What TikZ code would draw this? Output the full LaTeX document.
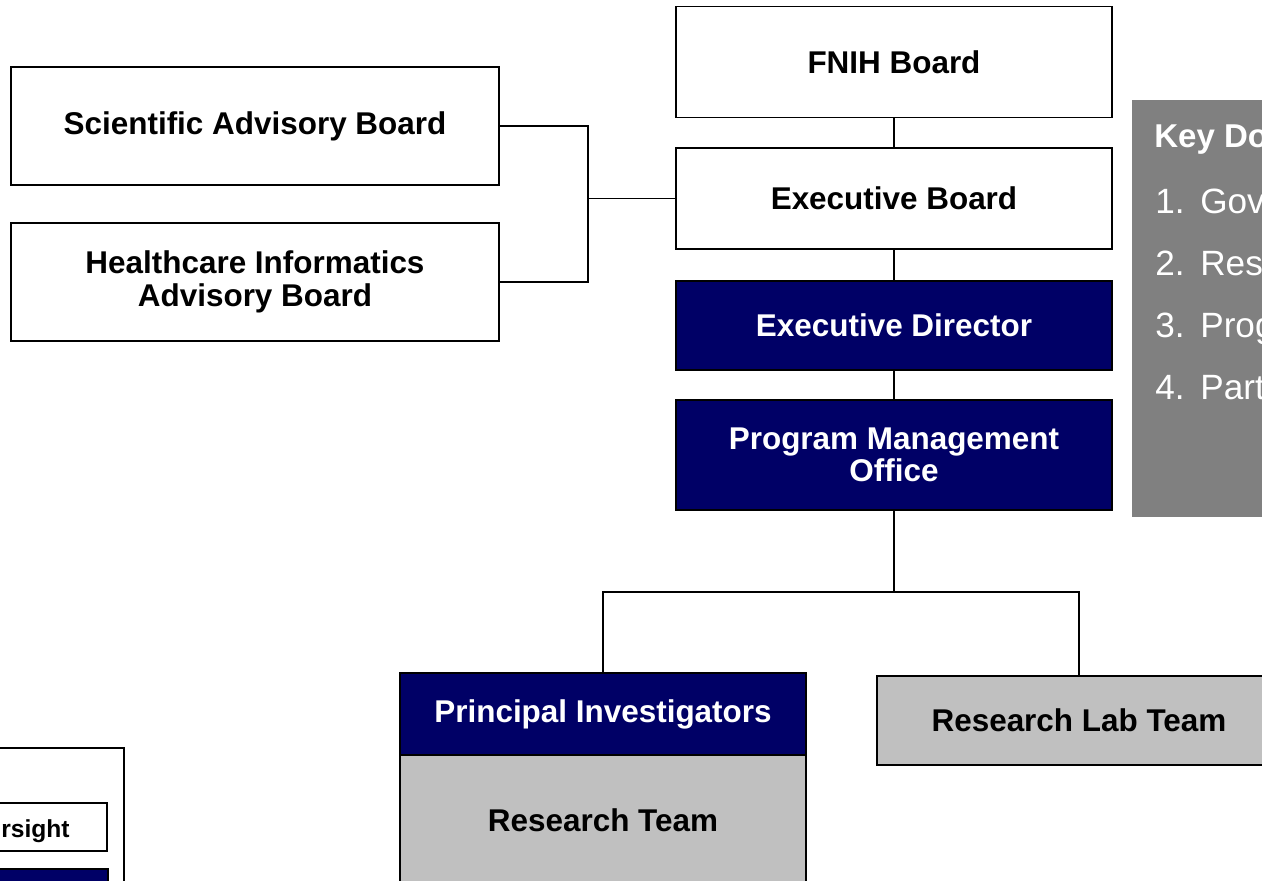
\documentclass[tikz,border=0pt]{standalone}
\usepackage{fontspec}
\setmainfont{Liberation Sans}
\definecolor{navy}{RGB}{0,0,102}
\definecolor{teamgray}{RGB}{192,192,192}
\definecolor{keygray}{RGB}{128,128,128}
\begin{document}
\begin{tikzpicture}[x=0.02cm,y=-0.02cm,
    board/.style={draw,line width=1.1pt,fill=white,inner sep=0pt,align=center,
      font=\fontsize{17.9}{18.4}\selectfont\bfseries},
    navybox/.style={board,fill=navy,text=white},
    graybox/.style={board,fill=teamgray},
    link/.style={line width=0.7pt}]
        \clip (0,0) rectangle (1262,880);

        % Advisory boards on the left
        \node [board,minimum width=9.76cm,minimum height=2.36cm] (sab) at (255,126) {Scientific Advisory Board};
        \node [board,minimum width=9.76cm,minimum height=2.36cm] (hiab) at (255,282) {Healthcare Informatics\\Advisory Board};

        % The main column
        \node [board,minimum width=8.72cm,minimum height=2.22cm] (fnih) at (894,62) {FNIH Board};
        \node [board,minimum width=8.72cm,minimum height=2.02cm] (exb) at (894,198.5) {Executive Board};
        \node [navybox,minimum width=8.72cm,minimum height=1.78cm] (exd) at (894,325.5) {Executive Director};
        \node [navybox,minimum width=8.72cm,minimum height=2.2cm] (pmo) at (894,455) {Program Management\\Office};

        % Teams at the bottom
        \node [graybox,minimum width=8.12cm,minimum height=2.6cm] (rt) at (603,820) {Research Team};
        \node [navybox,minimum width=8.12cm,minimum height=1.64cm] (pi) at (603,714) {Principal Investigators};
        \node [graybox,minimum width=8.08cm,minimum height=1.78cm] (rlt) at (1079,720.5) {Research Lab Team};

        % Connectors
        \draw [link] (fnih) -- (exb);
        \draw [link] (exb) -- (exd);
        \draw [link] (exd) -- (pmo);
        \coordinate (split) at (894,592);
        \draw [link] (pmo) -- (split);
        \draw [link] (split) -| (pi.north);
        \draw [link] (split) -| (rlt.north);
        \coordinate (adv) at (588,198.5);
        \draw [link] (sab.east) -| (adv) |- (hiab.east);
        \draw [link] (adv) -- (exb.west);

        % The grey key panel on the right
        \node [fill=keygray,inner sep=0pt,minimum width=3.4cm,minimum height=8.34cm,anchor=north west] (key) at (1132,100) {};
        \node [anchor=base west,text=white,inner sep=0pt,font=\fontsize{18.8}{22}\selectfont\bfseries] (keytitle) at (1154,147) {Key Do};
        \foreach \n/\w in {1/Gov,2/Res,3/Prog,4/Part} {
          \node [anchor=base west,text=white,inner sep=0pt,font=\fontsize{20}{24}\selectfont] (num\n) at (1155,{213+62*(\n-1)}) {\n.};
          \node [anchor=base west,text=white,inner sep=0pt,font=\fontsize{20}{24}\selectfont] (item\n) at (1200,{213+62*(\n-1)}) {\w};
        }

        % Legend in the lower left corner
        \draw [line width=1.1pt,fill=white] (-60,748) rectangle (124,950);
        \draw [line width=1.1pt,fill=white] (-60,803) rectangle (107,851);
        \node [anchor=base east,inner sep=0pt,font=\fontsize{14}{16}\selectfont\bfseries] (ovs) at (70,837) {rsight};
        \draw [line width=1.1pt,fill=navy] (-60,869) rectangle (108,950);
    \end{tikzpicture}
\end{document}
